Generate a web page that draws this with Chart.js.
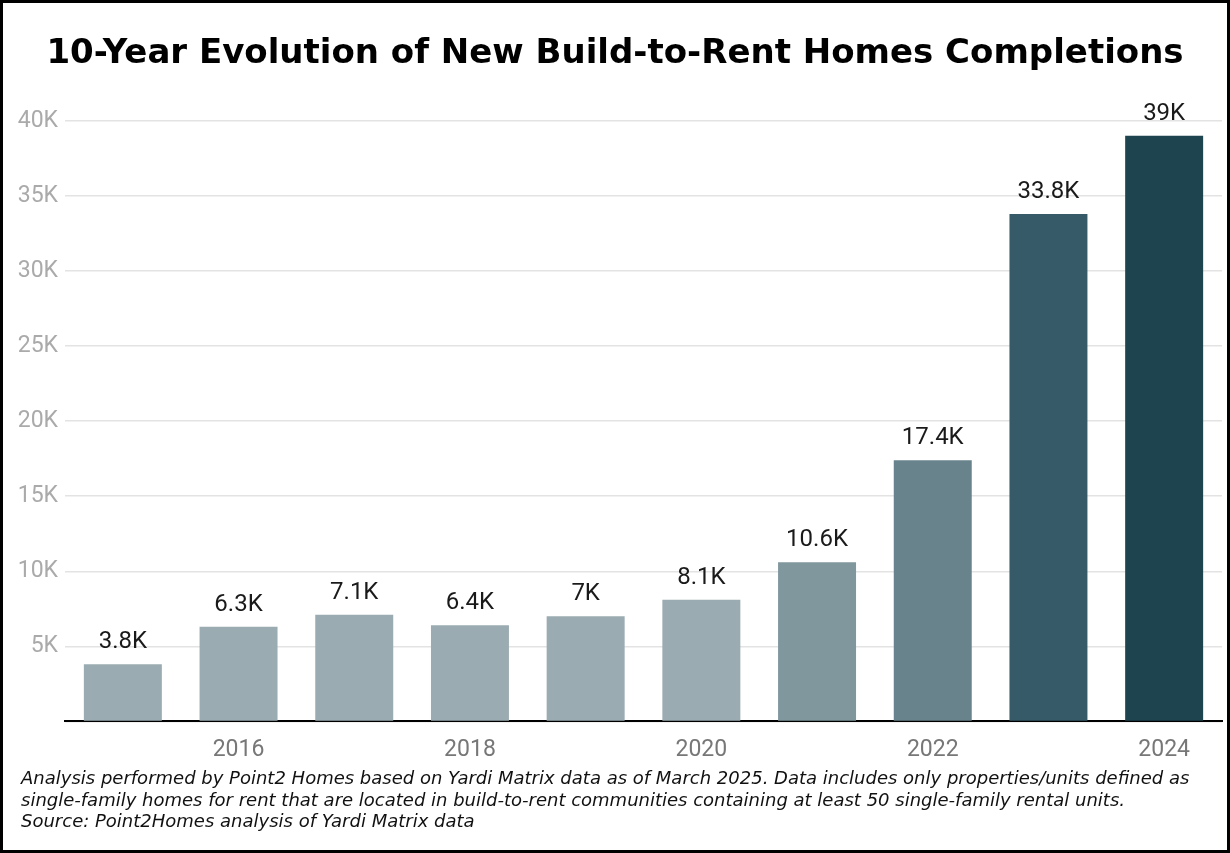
<!DOCTYPE html>
<html>
<head>
<meta charset="utf-8">
<script src="https://cdn.jsdelivr.net/npm/chart.js@4"></script>
<style>
  html, body { margin: 0; padding: 0; background: #fff; }
  #frame { position: relative; width: 1230px; height: 853px; box-sizing: border-box; border: 3px solid #000; background: #fff; overflow: hidden; }
  #wrap { position: absolute; left: 0; top: 0; width: 1224px; height: 772px; }
  #note { position: absolute; left: 18px; top: 764px; font-family: "DejaVu Sans", sans-serif; font-style: italic; font-size: 18px; line-height: 21.5px; color: #111; white-space: nowrap; }
</style>
</head>
<body>
<div id="frame">
  <div id="wrap"><canvas id="c"></canvas></div>
  <div id="note">Analysis performed by Point2 Homes based on Yardi Matrix data as of March 2025. Data includes only properties/units defined as<br>single-family homes for rent that are located in build-to-rent communities containing at least 50 single-family rental units.<br>Source: Point2Homes analysis of Yardi Matrix data</div>
</div>
<script>
const years = ['2015', '2016', '2017', '2018', '2019', '2020', '2021', '2022', '2023', '2024'];
const completionsK = [3.8, 6.3, 7.1, 6.4, 7, 8.1, 10.6, 17.4, 33.8, 39];
const barColors = ['#9aabb1', '#9aabb1', '#9aabb1', '#9aabb1', '#9aabb1', '#9aabb1', '#80979e', '#68838b', '#365a67', '#1e4450'];
const yTicks = [0, 5, 10, 15, 20, 25, 30, 35, 40];
const titleText = '10-Year Evolution of New Build-to-Rent Homes Completions';

const valueLabels = {
  id: 'valueLabels',
  afterDatasetsDraw(chart) {
    const ctx = chart.ctx;
    const meta = chart.getDatasetMeta(0);
    ctx.save();
    ctx.font = '24px Roboto';
    ctx.fillStyle = '#1a1a1a';
    ctx.textAlign = 'center';
    ctx.textBaseline = 'alphabetic';
    meta.data.forEach((bar, i) => {
      ctx.fillText(completionsK[i] + 'K', bar.x, bar.y - 16);
    });
    ctx.restore();
  }
};

new Chart(document.getElementById('c'), {
  type: 'bar',
  data: {
    labels: years,
    datasets: [{
      data: completionsK,
      backgroundColor: barColors,
      borderWidth: 0,
      barPercentage: 0.674,
      categoryPercentage: 1.0
    }]
  },
  plugins: [valueLabels],
  options: {
    responsive: true,
    maintainAspectRatio: false,
    animation: false,
    layout: { padding: { left: 5, right: 5, top: 0, bottom: 4 } },
    plugins: {
      legend: { display: false },
      tooltip: { enabled: false },
      title: {
        display: true,
        text: titleText,
        color: '#000',
        font: { family: 'DejaVu Sans', weight: 'bold', size: 34 },
        padding: { top: 31, bottom: 46 }
      }
    },
    scales: {
      x: {
        grid: { display: false },
        border: { display: true, color: '#000', width: 2 },
        ticks: {
          autoSkip: false,
          maxRotation: 0,
          padding: 7,
          color: '#777',
          font: { family: 'Roboto', size: 23 },
          callback: (v, i) => (i % 2 === 1 ? years[i] : '')
        }
      },
      y: {
        min: yTicks[0],
        max: yTicks[yTicks.length - 1],
        afterBuildTicks: (scale) => { scale.ticks = yTicks.map(v => ({ value: v })); },
        afterFit: (scale) => { scale.width = 57; },
        grid: { color: '#e3e3e3', lineWidth: 1.5, drawTicks: false },
        border: { display: false },
        ticks: {
          padding: 7,
          color: '#aaaaaa',
          font: { family: 'Roboto', size: 23 },
          callback: (v) => (v === 0 ? '' : v + 'K')
        }
      }
    }
  }
});
</script>
</body>
</html>
